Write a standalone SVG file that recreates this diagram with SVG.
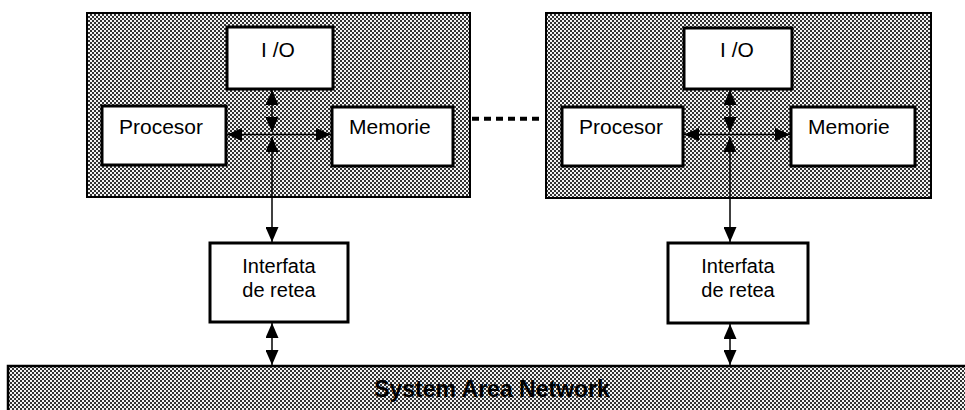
<svg xmlns="http://www.w3.org/2000/svg" width="965" height="410" viewBox="0 0 965 410">
<style>
.hatch{fill:url(#dots);stroke:#000;stroke-width:2}
.box{fill:#fff;stroke:#000;stroke-width:3}
.lbl{font-family:"Liberation Sans",Arial,sans-serif;font-size:21px;fill:#000}
.lbl2{font-family:"Liberation Sans",Arial,sans-serif;font-size:20px;fill:#000;text-anchor:middle}
.san{font-family:"Liberation Sans",Arial,sans-serif;font-size:23px;font-weight:bold;fill:#000;text-anchor:middle}
.con{fill:none;stroke:#000;stroke-width:1.5;marker-start:url(#ah);marker-end:url(#ah)}
</style>
<defs>
<pattern id="dots" width="4" height="4" patternUnits="userSpaceOnUse">
<rect width="4" height="4" fill="#f4f4f4"/>
<rect x="0" y="0" width="2" height="2" fill="#333"/>
<rect x="2" y="2" width="2" height="2" fill="#333"/>
</pattern>
<marker id="ah" viewBox="0 0 15 13" refX="15" refY="6.5" markerWidth="15" markerHeight="13" markerUnits="userSpaceOnUse" orient="auto-start-reverse">
<path d="M0,0 L15,6.5 L0,13 Z" fill="#000"/>
</marker>
</defs>
<g id="computer-left"><rect class="hatch" x="87" y="13" width="383" height="184"/></g>
<g id="computer-right"><rect class="hatch" x="546" y="13" width="385" height="185"/></g>
<g id="san"><rect x="8" y="366" width="960" height="50" fill="url(#dots)"/><path d="M8,410 V366 H965" fill="none" stroke="#000" stroke-width="2.5"/><text class="san" x="492" y="397">System Area Network</text></g>
<g id="io-left"><rect class="box" x="227" y="27" width="106" height="62"/><text class="lbl" x="278" y="57" text-anchor="middle">I /O</text></g>
<g id="procesor-left"><rect class="box" x="102" y="106" width="124" height="59"/><text class="lbl" x="119" y="134">Procesor</text></g>
<g id="memorie-left"><rect class="box" x="332" y="107" width="121" height="59"/><text class="lbl" x="349" y="134">Memorie</text></g>
<g id="interfata-left"><rect class="box" x="210" y="243" width="138" height="79"/><text class="lbl2" x="279" y="273">Interfata</text><text class="lbl2" x="279" y="297">de retea</text></g>
<g id="io-right"><rect class="box" x="684" y="28" width="108" height="61"/><text class="lbl" x="737" y="57" text-anchor="middle">I /O</text></g>
<g id="procesor-right"><rect class="box" x="562" y="107" width="121" height="59"/><text class="lbl" x="579" y="134">Procesor</text></g>
<g id="memorie-right"><rect class="box" x="791" y="107" width="124" height="59"/><text class="lbl" x="808" y="134">Memorie</text></g>
<g id="interfata-right"><rect class="box" x="668" y="243" width="140" height="80"/><text class="lbl2" x="738" y="273">Interfata</text><text class="lbl2" x="738" y="297">de retea</text></g>
<g id="connectors">
<path class="con" d="M272,90 V132"/>
<path class="con" d="M272,137 V242"/>
<path class="con" d="M227,134.5 H331"/>
<path class="con" d="M272,323 V365"/>
<path class="con" d="M730,90 V132"/>
<path class="con" d="M730,137 V242"/>
<path class="con" d="M684,134.5 H790"/>
<path class="con" d="M730,324 V365"/>
<path d="M472,118.7 H540" fill="none" stroke="#000" stroke-width="4" stroke-dasharray="7 5"/>
</g>
</svg>
